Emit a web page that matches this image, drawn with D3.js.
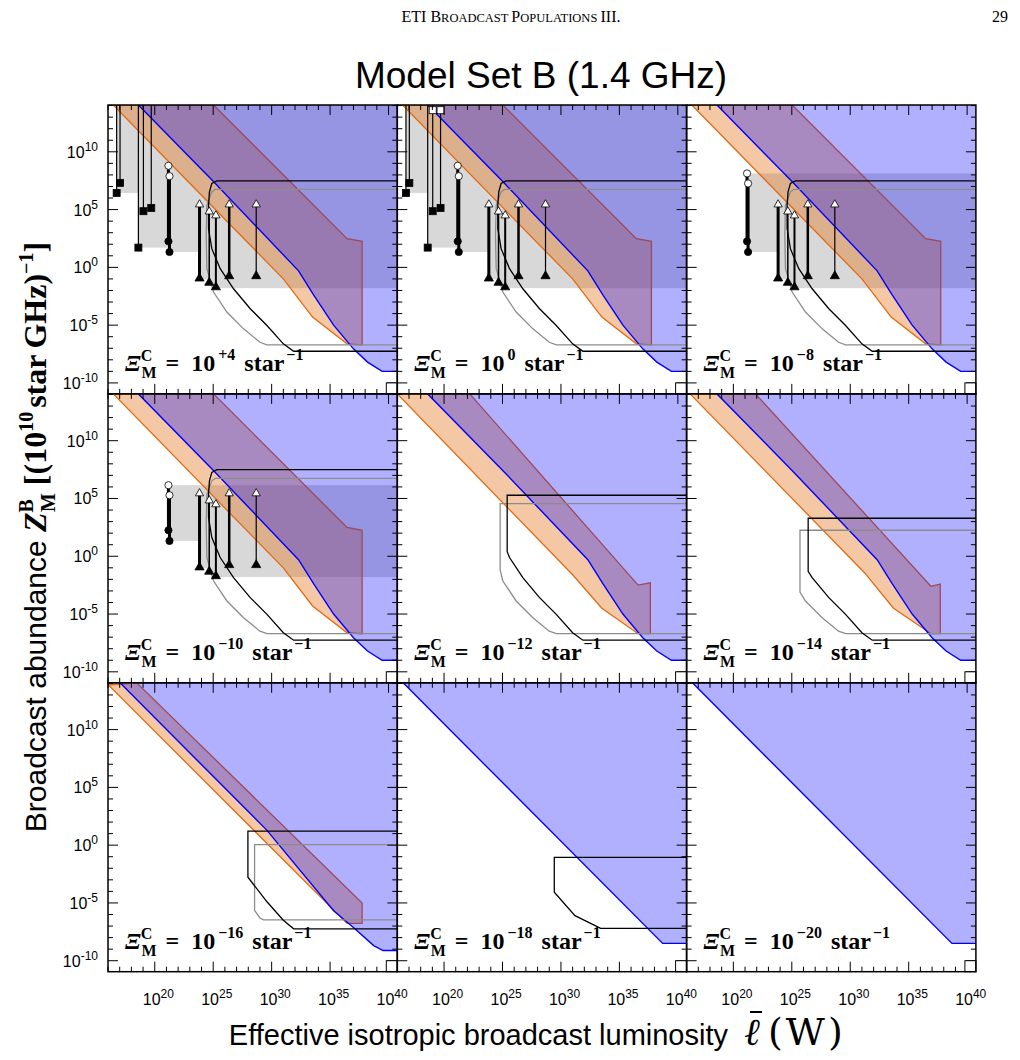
<!DOCTYPE html>
<html>
<meta charset="utf-8">
<script src="https://d3js.org/d3.v7.min.js"></script>
<style>
  body { margin: 0; background: #fff; }
</style>
<body>
<div id="my_dataviz"></div>
<script>

// ---- data (all values are log10) ----
var xiLabels = ["+4", "0", "\u22128", "\u221210", "\u221212", "\u221214", "\u221216", "\u221218", "\u221220"];
var xTicksMajor = [20, 25, 30, 35, 40];
var yTicksMajor = [10, 5, 0, -5, -10];

// blue excluded region: frontier points [log L, log Z]
var blueUpper = [[18.6,14.05],[25.0,7.45],[32.3,-0.3],[33.6,-2.4],[35.3,-5.0],[37.0,-7.05],[38.2,-8.2],[39.45,-9.0],[40.75,-9.0]];
var blueLower = [[17.03,14.05],[29.6,1.28],[35.3,-5.68],[37.02,-7.15],[38.73,-8.69],[39.53,-9.12],[40.75,-9.12]];
var blueStraight = [[16.5,14.05],[38.7,-8.5],[40.75,-8.5]];

// orange band outlines
var orangeWide = [[16.45,14.05],[31.0,-1.0],[33.5,-4.3],[36.45,-6.62],[37.74,-6.7],[37.74,2.25],[36.45,2.49],[25.03,14.05]];
var orangeMid12 = [[16.0,14.05],[31.0,-1.6],[33.5,-4.5],[36.6,-6.7],[37.65,-6.7],[37.65,-2.3],[36.6,-2.5],[22.2,14.05]];
var orangeMid14 = [[16.3,14.05],[31.2,-1.4],[33.7,-4.5],[36.9,-6.7],[37.7,-6.7],[37.7,-2.4],[36.9,-2.6],[21.9,14.05]];
var orangeNarrow = [[16.03,13.86],[36.45,-6.77],[37.74,-6.77],[37.74,-5.0],[18.46,14.05]];

// sensitivity envelopes (black and grey outlines)
var blackWide = [[40.75,7.49],[25.31,7.49],[24.88,7.26],[24.68,6.53],[24.6,5.38],[24.6,3.36],[24.88,1.62],[25.6,-0.11],[26.74,-1.85],[28.17,-3.58],[29.6,-5.03],[31.0,-6.62],[31.88,-7.26],[40.75,-7.26]];
var greyWide = [[40.75,6.74],[25.17,6.74],[24.88,6.53],[24.46,5.38],[24.4,2.78],[24.46,-0.11],[25.03,-2.14],[26.17,-3.87],[27.6,-5.32],[29.0,-6.48],[29.6,-6.7],[40.75,-6.7]];
var black12 = [[40.75,5.28],[25.4,5.28],[25.4,0.4],[25.6,-0.11],[26.74,-1.85],[28.17,-3.58],[29.6,-5.03],[31.0,-6.62],[31.88,-7.26],[40.75,-7.26]];
var grey12 = [[40.75,4.55],[24.8,4.55],[24.8,-1.2],[25.03,-2.14],[26.17,-3.87],[27.6,-5.32],[29.0,-6.48],[29.6,-6.7],[40.75,-6.7]];
var black14 = [[40.75,3.29],[26.4,3.29],[26.4,-1.3],[26.74,-1.85],[28.17,-3.58],[29.6,-5.03],[31.0,-6.62],[31.88,-7.26],[40.75,-7.26]];
var grey14 = [[40.75,2.25],[25.7,2.25],[25.7,-3.1],[26.17,-3.87],[27.6,-5.32],[29.0,-6.48],[29.6,-6.7],[40.75,-6.7]];
var black16 = [[40.75,1.22],[27.97,1.22],[27.97,-2.77],[29.6,-4.9],[31.0,-6.5],[31.88,-7.24],[40.75,-7.24]];
var grey16 = [[40.75,0.04],[28.54,0.04],[28.54,-5.65],[29.0,-6.3],[29.3,-6.46],[40.75,-6.46]];
var black18 = [[40.75,-1.06],[29.43,-1.06],[29.43,-4.07],[31.2,-6.1],[33.4,-7.2],[40.75,-7.2]];

// survey limits: shape, luminosity, and per panel [low, high] of Z
var surveyShape = ["square","square","square","square","square","circle","circle","triangle","triangle","triangle","triangle","triangle"];
var surveyL = [16.74, 17.03, 18.6, 19.03, 19.7, 21.17, 21.26, 23.83, 24.66, 25.23, 26.37, 28.68];
var surveyLow = [6.44, 7.31, 1.71, 4.86, 5.14, 2.25, 1.33, -1.04, -1.41, -1.8, -0.84, -0.84];
var surveyHighP1 = [17, 17, 17, 17, 17, 8.79, 7.89, 5.61, 5.0, 4.66, 5.61, 5.61];
var surveyHighP2 = [17, 17, 17, 13.6, 13.6, 8.79, 7.89, 5.61, 5.0, 4.66, 5.61, 5.61];
var surveyHighP3 = [null, null, null, null, null, 8.13, 7.26, 5.61, 5.0, 4.66, 5.61, 5.61];
var surveyHighP4 = [null, null, null, null, null, 6.15, 5.28, 5.61, 5.0, 4.66, 5.61, 5.61];

// ---- panel wiring ----
var panelBlue   = [blueUpper, blueUpper, blueUpper, blueUpper, blueUpper, blueUpper, blueLower, blueStraight, blueStraight];
var panelOrange = [orangeWide, orangeWide, orangeWide, orangeWide, orangeMid12, orangeMid14, orangeNarrow, null, null];
var panelBlack  = [blackWide, blackWide, blackWide, blackWide, black12, black14, black16, black18, null];
var panelGrey   = [greyWide, greyWide, greyWide, greyWide, grey12, grey14, grey16, null, null];
var panelHigh   = [surveyHighP1, surveyHighP2, surveyHighP3, surveyHighP4, null, null, null, null, null];

// line weights of the survey bars
var surveyWidth = [1.2, 1.2, 1.2, 1.2, 1.2, 3, 3, 3, 1.5, 2, 2.5, 1.2];

// ---- layout ----
var W = 1020, H = 1060;
var left = 108, top0 = 105, pw = 289.3, ph = 288.9;
var xDomain = [16, 40.75], yDomain = [-10.95, 14.05];

var svg = d3.select("#my_dataviz")
  .append("svg")
    .attr("width", W)
    .attr("height", H);

var x = d3.scaleLinear().domain(xDomain).range([0, pw]);
var y = d3.scaleLinear().domain(yDomain).range([ph, 0]);

var line = d3.line()
  .x(function(d) { return x(d[0]); })
  .y(function(d) { return y(d[1]); });

var sans = "Liberation Sans, Arial, Helvetica, sans-serif";
var serif = "Liberation Serif, Times New Roman, serif";

for (var p = 0; p < 9; p++) {
  var col = p % 3, row = Math.floor(p / 3);
  var g = svg.append("g")
    .attr("transform", "translate(" + (left + col * pw) + "," + (top0 + row * ph) + ")");

  g.append("clipPath").attr("id", "clip" + p)
    .append("rect").attr("width", pw).attr("height", ph);

  var body = g.append("g").attr("clip-path", "url(#clip" + p + ")");

  // grey band = union of survey rectangles
  var high = panelHigh[p];
  if (high) {
    surveyL.forEach(function(L, i) {
      if (high[i] === null) return;
      body.append("rect")
        .attr("x", x(L))
        .attr("y", y(high[i]))
        .attr("width", pw - x(L) + 2)
        .attr("height", y(surveyLow[i]) - y(high[i]))
        .style("fill", "#d8d8d8");
    });
  }

  // orange band
  if (panelOrange[p]) {
    body.append("path")
      .attr("d", line(panelOrange[p]) + "Z")
      .style("fill", "rgba(228,118,30,0.4)")
      .style("stroke", "#e36a10")
      .style("stroke-width", 1.3);
  }

  // blue region
  var bl = panelBlue[p];
  var poly = bl.concat([[xDomain[1] + 1, bl[bl.length - 1][1]], [xDomain[1] + 1, yDomain[1] + 1], [bl[0][0], yDomain[1] + 1]]);
  body.append("path")
    .attr("d", line(poly) + "Z")
    .style("fill", "rgba(0,0,255,0.31)")
    .style("stroke", "none");
  body.append("path")
    .attr("d", line(bl))
    .style("fill", "none")
    .style("stroke", "#0000ff")
    .style("stroke-width", 1.4);

  // envelopes
  if (panelGrey[p]) {
    body.append("path").attr("d", line(panelGrey[p]))
      .style("fill", "none").style("stroke", "#8c8c8c").style("stroke-width", 1.3);
  }
  if (panelBlack[p]) {
    body.append("path").attr("d", line(panelBlack[p]))
      .style("fill", "none").style("stroke", "#000").style("stroke-width", 1.3);
  }

  // survey markers
  if (high) {
    surveyL.forEach(function(L, i) {
      if (high[i] === null) return;
      var cx = x(L), y0 = y(surveyLow[i]), y1 = y(high[i]);
      body.append("line")
        .attr("x1", cx).attr("x2", cx).attr("y1", y0).attr("y2", y1)
        .style("stroke", "#000").style("stroke-width", surveyWidth[i]);
      var shp = surveyShape[i];
      [[y0, "#000"], [y1, "#fff"]].forEach(function(m) {
        if (shp === "square") {
          body.append("rect").attr("x", cx - 3.5).attr("y", m[0] - 3.5)
            .attr("width", 7).attr("height", 7)
            .style("fill", m[1]).style("stroke", "#000").style("stroke-width", 0.8);
        } else if (shp === "circle") {
          body.append("circle").attr("cx", cx).attr("cy", m[0]).attr("r", 3.6)
            .style("fill", m[1]).style("stroke", "#000").style("stroke-width", 0.8);
        } else {
          body.append("path")
            .attr("d", d3.symbol().type(d3.symbolTriangle).size(m[1] === "#000" ? 36 : 30)())
            .attr("transform", "translate(" + cx + "," + (m[0] + (m[1] === "#000" ? -1 : 2)) + ")")
            .style("fill", m[1]).style("stroke", "#000").style("stroke-width", 0.8);
        }
      });
    });
  }

  // panel label
  var t = g.append("text")
    .attr("x", 17).attr("y", ph - 23)
    .style("font-family", serif).style("font-weight", "bold").style("font-size", "24px");
  t.append("tspan").style("font-style", "italic").text("\u039E");
  t.append("tspan").style("font-size", "16px").attr("dx", 0).attr("dy", -10).text("C");
  t.append("tspan").style("font-size", "16px").attr("dx", -11).attr("dy", 17).text("M");
  t.append("tspan").attr("dx", 9).attr("dy", -7).text("=");
  t.append("tspan").attr("dx", 12).text("10");
  t.append("tspan").style("font-size", "16px").attr("dx", 3).attr("dy", -11).text(xiLabels[p]);
  t.append("tspan").attr("dx", 9).attr("dy", 11).text("star");
  t.append("tspan").style("font-size", "16px").attr("dx", 2).attr("dy", -11).text("\u22121");

  // ticks (inward on all sides)
  var minorX = d3.range(16, 41), minorY = d3.range(-10, 15);
  minorX.forEach(function(v) {
    var len = (v % 5 === 0) ? 10 : 5;
    g.append("line").attr("x1", x(v)).attr("x2", x(v)).attr("y1", ph).attr("y2", ph - len).style("stroke", "#000");
    g.append("line").attr("x1", x(v)).attr("x2", x(v)).attr("y1", 0).attr("y2", len).style("stroke", "#000");
  });
  minorY.forEach(function(v) {
    var len = (v % 5 === 0) ? 10 : 5;
    g.append("line").attr("y1", y(v)).attr("y2", y(v)).attr("x1", 0).attr("x2", len).style("stroke", "#000");
    g.append("line").attr("y1", y(v)).attr("y2", y(v)).attr("x1", pw).attr("x2", pw - len).style("stroke", "#000");
  });

  // little corner box
  g.append("rect").attr("x", pw - 11).attr("y", ph - 11).attr("width", 11).attr("height", 11)
    .style("fill", "#fff").style("stroke", "#000").style("stroke-width", 1);

  // border
  g.append("rect").attr("width", pw).attr("height", ph)
    .style("fill", "none").style("stroke", "#000").style("stroke-width", 1.5);

  // tick labels
  if (row === 2) {
    xTicksMajor.forEach(function(v) {
      var tl = g.append("text").attr("x", x(v) - 12).attr("y", ph + 33)
        .style("font-family", sans).style("font-size", "16px");
      tl.append("tspan").text("10");
      tl.append("tspan").attr("dy", -7).style("font-size", "12px").text(v);
    });
  }
  if (col === 0) {
    yTicksMajor.forEach(function(v) {
      var tl = g.append("text").attr("x", -10).attr("y", y(v) + 6)
        .attr("text-anchor", "end")
        .style("font-family", sans).style("font-size", "16px");
      tl.append("tspan").text("10");
      tl.append("tspan").attr("dy", -7).style("font-size", "12px").text(v < 0 ? "-" + (-v) : v);
    });
  }
}

// running header
var hdr = svg.append("text").attr("x", 511).attr("y", 22).attr("text-anchor", "middle")
  .style("font-family", serif).style("font-size", "16px");
hdr.append("tspan").text("ETI B");
hdr.append("tspan").style("font-size", "12.5px").text("ROADCAST ");
hdr.append("tspan").text("P");
hdr.append("tspan").style("font-size", "12.5px").text("OPULATIONS ");
hdr.append("tspan").text("III.");
svg.append("text").attr("x", 1000).attr("y", 22).attr("text-anchor", "middle")
  .style("font-family", serif).style("font-size", "16px").text("29");

// title
svg.append("text").attr("x", 541).attr("y", 88).attr("text-anchor", "middle")
  .style("font-family", sans).style("font-size", "37px").text("Model Set B (1.4 GHz)");

// x axis title
svg.append("text").attr("x", 728).attr("y", 1045).attr("text-anchor", "end")
  .style("font-family", sans).style("font-size", "29px")
  .text("Effective isotropic broadcast luminosity");
svg.append("text").attr("x", 744).attr("y", 1045)
  .style("font-family", serif).style("font-style", "italic").style("font-size", "38px")
  .text("\u2113");
svg.append("line").attr("x1", 750).attr("x2", 762).attr("y1", 1012).attr("y2", 1012)
  .style("stroke", "#000").style("stroke-width", 2);
svg.append("text").attr("x", 768).attr("y", 1045)
  .style("font-family", "DejaVu Serif, serif").style("font-size", "38px")
  .style("letter-spacing", "3px").text("(W)");

// y axis title
var yl = svg.append("text").attr("transform", "translate(46,537) rotate(-90)").attr("text-anchor", "middle")
  .style("font-family", sans).style("font-size", "30px");
yl.append("tspan").text("Broadcast abundance ");
var ys = function(s) { return yl.append("tspan").style("font-family", serif).style("font-weight", "bold").text(s); };
ys(" Z").style("font-style", "italic").style("font-size", "32px");
ys("B").style("font-size", "20px").attr("dy", -13);
ys("M").style("font-size", "20px").attr("dx", -13).attr("dy", 22);
ys("[(10").style("font-size", "32px").attr("dx", 8).attr("dy", -9);
ys("10").style("font-size", "20px").attr("dy", -13);
ys("star").style("font-size", "32px").attr("dx", 4).attr("dy", 13);
ys("GHz)").style("font-size", "32px").attr("dx", 6);
ys("\u22121").style("font-size", "20px").attr("dy", -13);
ys("]").style("font-size", "32px").attr("dy", 13);

</script>
</body>
</html>
